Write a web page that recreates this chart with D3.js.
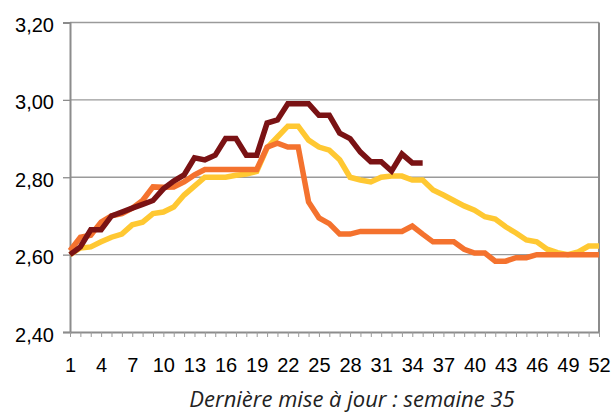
<!DOCTYPE html>
<html>
<head>
<meta charset="utf-8">
<script src="https://cdn.jsdelivr.net/npm/d3@7"></script>
<style>
  body { margin: 0; background: #fff; }
  svg { display: block; }
</style>
</head>
<body>
<script>
// weeks 1..52
var weeks = d3.range(1, 53);
var tickWeeks = [1, 4, 7, 10, 13, 16, 19, 22, 25, 28, 31, 34, 37, 40, 43, 46, 49, 52];
var yTicks = [2.40, 2.60, 2.80, 3.00, 3.20];

// yellow series (full year)
var yellowValues = [2.60, 2.617, 2.62, 2.633, 2.645, 2.653, 2.677, 2.684, 2.706, 2.71,
  2.723, 2.754, 2.777, 2.80, 2.80, 2.80, 2.805, 2.808, 2.815, 2.876,
  2.904, 2.932, 2.932, 2.896, 2.878, 2.87, 2.845, 2.80, 2.793, 2.788,
  2.80, 2.803, 2.803, 2.793, 2.793, 2.767, 2.754, 2.74, 2.726, 2.715,
  2.698, 2.692, 2.672, 2.656, 2.638, 2.633, 2.614, 2.605, 2.60, 2.607,
  2.622, 2.622];

// orange series (full year)
var orangeValues = [2.61, 2.645, 2.65, 2.684, 2.70, 2.706, 2.72, 2.74, 2.775, 2.774,
  2.775, 2.788, 2.806, 2.82, 2.82, 2.82, 2.82, 2.82, 2.82, 2.878,
  2.888, 2.878, 2.878, 2.736, 2.695, 2.68, 2.653, 2.653, 2.66, 2.66,
  2.66, 2.66, 2.66, 2.674, 2.653, 2.633, 2.633, 2.633, 2.614, 2.604,
  2.604, 2.583, 2.583, 2.592, 2.592, 2.60, 2.60, 2.60, 2.60, 2.60,
  2.60, 2.60];

// dark red series (current year, up to week 35)
var darkValues = [2.60, 2.62, 2.664, 2.664, 2.70, 2.71, 2.72, 2.73, 2.74, 2.77,
  2.79, 2.806, 2.85, 2.845, 2.857, 2.90, 2.90, 2.857, 2.857, 2.94,
  2.948, 2.99, 2.99, 2.99, 2.96, 2.96, 2.914, 2.90, 2.865, 2.84,
  2.84, 2.816, 2.86, 2.837, 2.837];

var width = 613, height = 412;
var plotLeft = 70, plotRight = 599, plotTop = 22.5, plotBottom = 332;

var svg = d3.select("body").append("svg")
  .attr("width", width)
  .attr("height", height);

var x = d3.scaleLinear().domain([1, 52]).range([plotLeft, plotRight]);
var y = d3.scaleLinear().domain([2.4, 3.2]).range([plotBottom, plotTop]);

// gridlines
svg.append("g")
  .selectAll("line")
  .data(yTicks.slice(1))
  .enter().append("line")
  .attr("x1", plotLeft).attr("x2", plotRight)
  .attr("y1", function (d) { return y(d); })
  .attr("y2", function (d) { return y(d); })
  .attr("stroke", "#9a9a9a")
  .attr("stroke-width", 1.3);

// right border
svg.append("line")
  .attr("x1", plotRight).attr("x2", plotRight)
  .attr("y1", plotTop).attr("y2", plotBottom)
  .attr("stroke", "#8c8c8c")
  .attr("stroke-width", 2);

// y axis
var yAxis = d3.axisLeft(y)
  .tickValues(yTicks)
  .tickSize(7)
  .tickPadding(9)
  .tickFormat(function (d) { return d3.format(".2f")(d).replace(".", ","); });

var gy = svg.append("g")
  .attr("transform", "translate(" + plotLeft + ",0)")
  .call(yAxis);
gy.select(".domain").attr("stroke", "#8c8c8c").attr("stroke-width", 2);
gy.selectAll(".tick line").attr("stroke", "#8c8c8c").attr("stroke-width", 1.3);
gy.selectAll("text")
  .attr("font-family", "Liberation Sans, Arial, sans-serif")
  .attr("font-size", 20)
  .attr("fill", "#000")
  .attr("dy", "0.45em");

// x axis: small ticks at every week, labels every 3 weeks
var xAxis = d3.axisBottom(x)
  .tickValues(weeks)
  .tickSize(5)
  .tickSizeOuter(0)
  .tickPadding(21)
  .tickFormat(function (d) { return tickWeeks.indexOf(d) >= 0 ? d : ""; });

var gx = svg.append("g")
  .attr("transform", "translate(0," + plotBottom + ")")
  .call(xAxis);
gx.select(".domain").attr("stroke", "#8c8c8c").attr("stroke-width", 2);
gx.selectAll(".tick line").attr("stroke", "#9a9a9a").attr("stroke-width", 1);
gx.selectAll("text")
  .attr("font-family", "Liberation Sans, Arial, sans-serif")
  .attr("font-size", 20)
  .attr("fill", "#000");

// lines
var line = d3.line()
  .x(function (d, i) { return x(i + 1); })
  .y(function (d) { return y(d); });

var series = [
  { values: yellowValues, color: "#ffc832" },
  { values: orangeValues, color: "#f4722e" },
  { values: darkValues, color: "#7a1214" }
];

svg.append("g")
  .selectAll("path")
  .data(series)
  .enter().append("path")
  .attr("d", function (d) { return line(d.values); })
  .attr("fill", "none")
  .attr("stroke", function (d) { return d.color; })
  .attr("stroke-width", 5.5)
  .attr("stroke-linejoin", "miter");

// footer
svg.append("text")
  .attr("x", 352)
  .attr("y", 407)
  .attr("text-anchor", "middle")
  .attr("font-family", "Open Sans, sans-serif")
  .attr("font-style", "italic")
  .attr("font-size", 22)
  .attr("fill", "#222")
  .text("Dernière mise à jour : semaine 35");
</script>
</body>
</html>
